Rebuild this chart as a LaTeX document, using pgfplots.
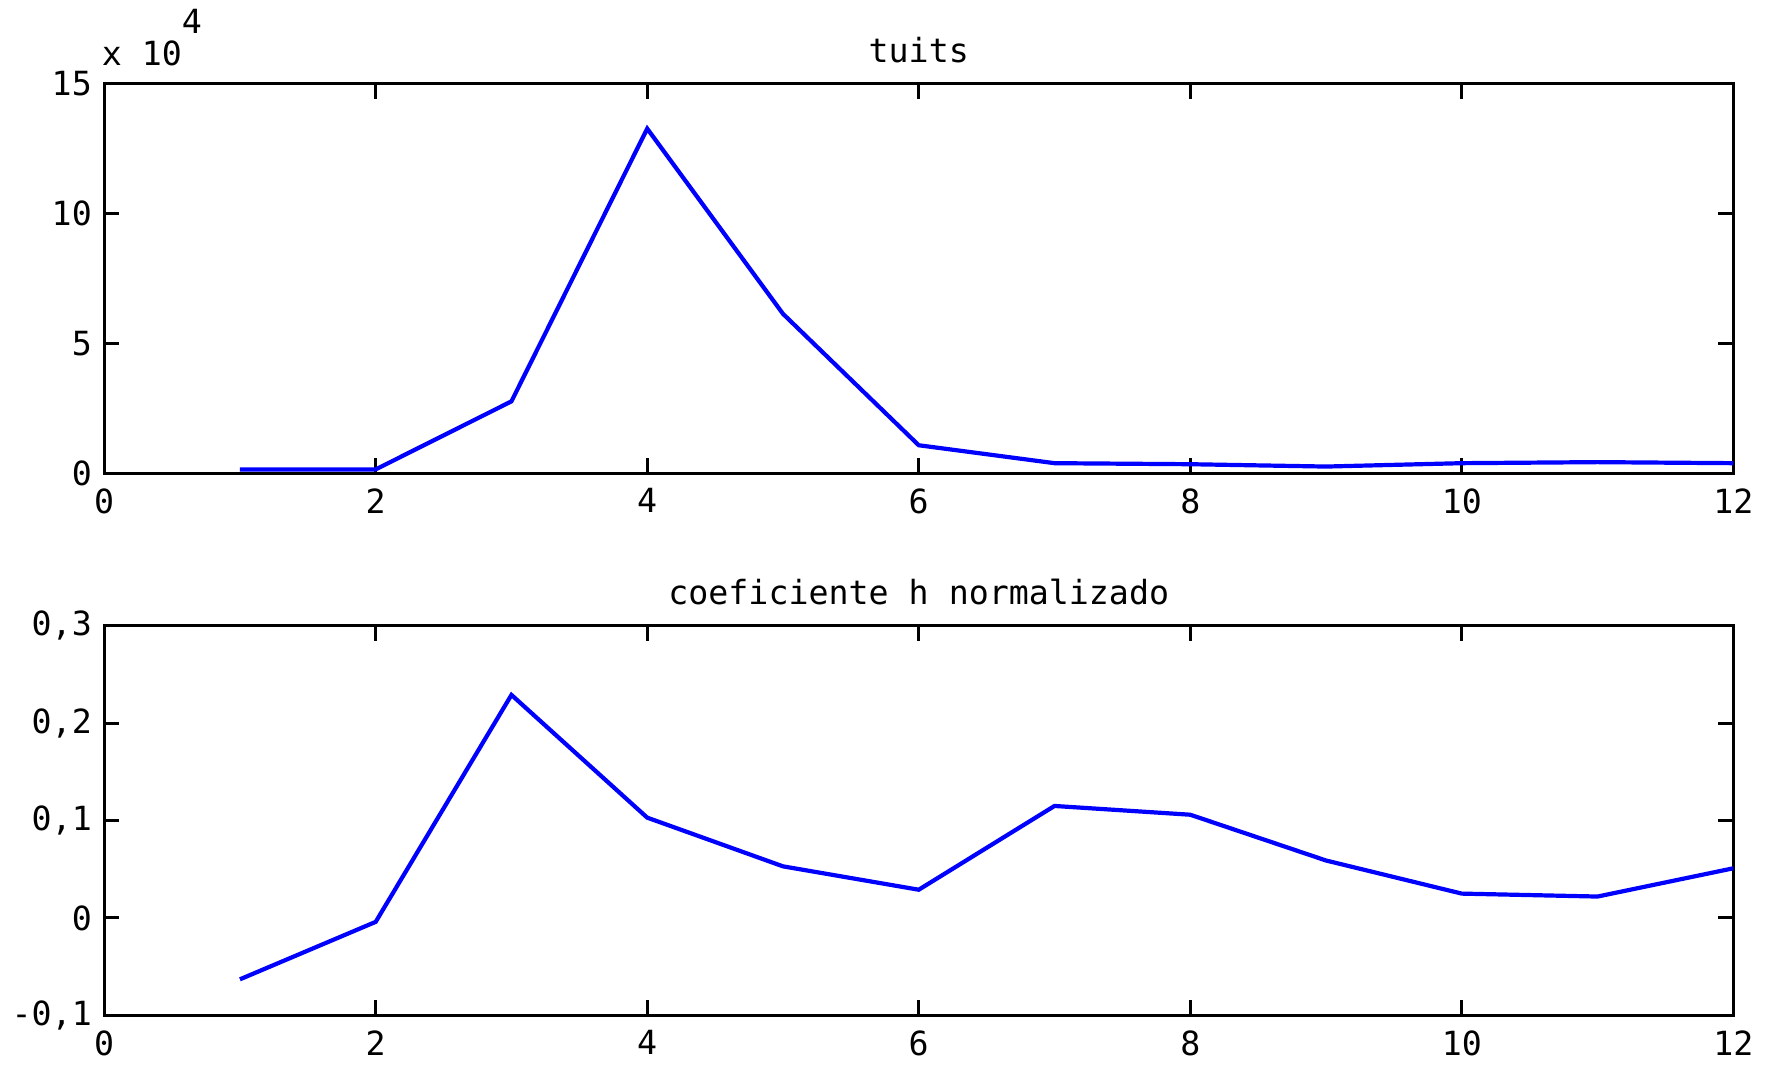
\documentclass[border=0pt]{standalone}
\usepackage{fontspec}
\setmainfont{DejaVu Sans Mono}
\usepackage{pgfplots}
\pgfplotsset{compat=1.18}
\definecolor{mblue}{RGB}{0,0,255}
\pgfplotsset{mystyle/.style={
  scale only axis, width=163.5mm, height=39.1mm,
  xmin=0, xmax=12, xtick={0,2,...,12},
  tick align=inside, major tick length=1.5mm,
  axis line style={line width=0.85pt},
  every tick/.style={black, line width=0.85pt},
  tick label style={font=\fontsize{9.5}{10}\selectfont},
  xticklabel style={yshift=-0.3mm},
  title style={font=\fontsize{9.5}{10}\selectfont, yshift=-1.25mm},
  /pgf/number format/assume math mode=true,
  /pgf/number format/use comma,
}}
\begin{document}
\begin{tikzpicture}
\begin{axis}[mystyle, name=top, title={tuits},
  ymin=0, ymax=150000, ytick={0,50000,100000,150000},
  yticklabels={0,5,10,15}, scaled y ticks=false]
\addplot[mblue, line width=1.2pt, mark=none] coordinates {(1,1500) (2,1500) (3,27700) (4,132700) (5,61400) (6,10800) (7,3900) (8,3500) (9,2600) (10,3900) (11,4300) (12,3900)};
\end{axis}
\node[anchor=south west, inner sep=0pt, font=\fontsize{9.5}{10}\selectfont] at ([yshift=1.7mm,xshift=-0.3mm]top.north west) {x 10\raisebox{3.2mm}{4}};
\path ([yshift=8.4mm]top.north west);
\begin{axis}[mystyle, name=bot, at={(0,-54.4mm)}, title={coeficiente h normalizado},
  ymin=-0.1, ymax=0.3, ytick={-0.1,0,0.1,0.2,0.3}]
\addplot[mblue, line width=1.2pt, mark=none] coordinates {(1,-0.063) (2,-0.004) (3,0.229) (4,0.103) (5,0.053) (6,0.029) (7,0.115) (8,0.106) (9,0.059) (10,0.025) (11,0.022) (12,0.051)};
\end{axis}
\path ([yshift=-4.5mm]bot.south west);
\end{tikzpicture}
\end{document}
